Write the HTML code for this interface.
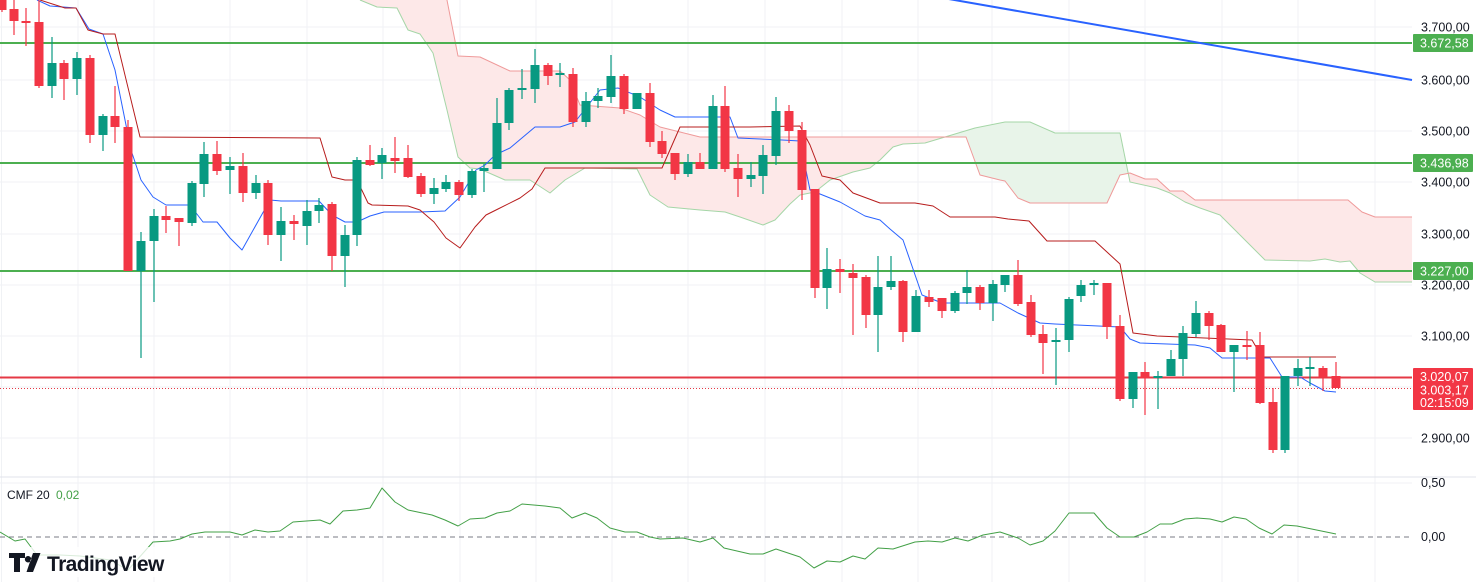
<!DOCTYPE html>
<html><head><meta charset="utf-8"><style>
html,body{margin:0;padding:0;background:#fff;width:1476px;height:582px;overflow:hidden}
svg{display:block;font-family:"Liberation Sans",sans-serif}
</style></head><body>
<svg id="c" width="1476" height="582" xmlns="http://www.w3.org/2000/svg"></svg>
<script>
const S=document.getElementById('c');let h='';
const gx=[1.5,78,154,230,307,383,460,536,612,688,765,842,918,992,1069,1145,1222,1298,1375];
gx.forEach(x=>h+=`<line x1="${x}" y1="0" x2="${x}" y2="582" stroke="#f0f2f5" stroke-width="1"/>`);
[27,80,131,182,234,285,336,387,438,483].forEach(y=>h+=`<line x1="0" y1="${y}" x2="1412" y2="${y}" stroke="#f0f2f5"/>`);
h+=`<line x1="0" y1="477" x2="1476" y2="477" stroke="#e0e3eb"/>`;
function interp(p,x){if(x<=p[0][0])return p[0][1];for(let i=1;i<p.length;i++){if(x<=p[i][0]){const a=p[i-1],b=p[i];return a[1]+(b[1]-a[1])*(x-a[0])/((b[0]-a[0])||1);}}return p[p.length-1][1];}
const A=[[360,0],[377,7],[397,8],[408,30],[420,34],[433,53],[447,110],[458,157],[470,168],[480,169],[505,180],[530,180],[550,193],[565,180],[585,168],[637,169],[650,195],[668,207],[700,210],[725,212],[740,217],[763,225],[775,220],[790,204],[800,195],[815,192],[830,180],[853,172],[870,168],[880,160],[893,147],[903,144],[925,143],[945,137],[975,128],[1000,123],[1005,122],[1030,122],[1055,133],[1120,133],[1130,182],[1157,188],[1170,193],[1185,202],[1200,208],[1220,215],[1245,240],[1265,260],[1310,261],[1325,259],[1340,262],[1350,261],[1360,273],[1375,282],[1412,282]];
const B=[[360,-10],[445,-10],[458,56],[480,57],[510,71],[560,71],[570,80],[580,105],[620,108],[640,115],[660,127],[700,137],[966,137],[980,175],[1000,180],[1005,181],[1018,198],[1030,203],[1107,203],[1120,175],[1130,173],[1145,179],[1157,179],[1170,191],[1183,191],[1195,200],[1348,200],[1362,212],[1375,217],[1412,217]];
for(let x=360;x<1412;x++){const a=interp(A,x+0.5),b=interp(B,x+0.5);const t=Math.min(a,b),bt=Math.max(a,b);
h+=`<rect x="${x}" y="${t}" width="1.05" height="${bt-t}" fill="${b<a?'#fde8e8':'#e8f4e9'}"/>`;}
const pl=(p,c,w)=>`<polyline points="${p.map(q=>q.join(',')).join(' ')}" fill="none" stroke="${c}" stroke-width="${w}" stroke-linejoin="round"/>`;
h+=pl(A,'#a5d6a7',1)+pl(B.filter(q=>q[1]>=0||q[0]>=445),'#ef9a9a',1);
[43,163,271].forEach(y=>h+=`<line x1="0" y1="${y}" x2="1412" y2="${y}" stroke="#4caf50" stroke-width="2"/>`);
h+=`<line x1="943" y1="-2" x2="1412" y2="80" stroke="#2962ff" stroke-width="2"/>`;
h+=`<line x1="0" y1="377.5" x2="1412" y2="377.5" stroke="#e53945" stroke-width="2"/>`;
h+=`<line x1="0" y1="388.5" x2="1412" y2="388.5" stroke="#e53945" stroke-width="1" stroke-dasharray="1,2"/>`;
const T=[[37,0],[50,6],[76,8],[89,29],[103,34],[115,70],[131,150],[141,180],[153,197],[166,205],[190,205],[203,222],[217,222],[230,238],[242,250],[270,200],[281,201],[319,201],[332,215],[345,222],[357,222],[370,216],[384,212],[420,212],[445,211],[460,197],[476,170],[485,165],[495,155],[510,148],[535,127],[560,127],[575,122],[600,90],[618,88],[640,97],[660,110],[675,117],[730,117],[738,138],[782,140],[800,141],[810,190],[820,194],[840,202],[865,216],[880,220],[890,229],[903,240],[922,295],[942,303],[1000,303],[1018,313],[1040,323],[1055,324],[1120,327],[1130,339],[1140,343],[1195,345],[1210,348],[1222,358],[1270,358],[1282,377],[1300,377],[1310,383],[1325,391],[1336,392]];
const K=[[40,0],[65,8],[76,8],[88,30],[103,34],[115,34],[140,137],[320,138],[332,177],[345,180],[357,180],[368,203],[372,205],[408,206],[420,210],[434,222],[446,238],[460,248],[475,227],[486,215],[498,209],[520,198],[532,189],[545,168],[662,168],[680,127],[750,127],[800,126],[810,145],[822,176],[840,180],[853,193],[880,203],[915,203],[933,206],[950,217],[995,217],[1008,219],[1029,221],[1047,241],[1095,241],[1120,264],[1133,333],[1157,336],[1252,340],[1262,357],[1336,357]];
h+=pl(T,'#2962ff',1)+pl(K,'#b71c1c',1);
const C=[[2,0,10,0,12,0],[14,9,21,0,35,0],[26,21,23,8,46,0],[39,22,86,0,88,0],[52,63,86,37,98,1],[64,63,79,60,100,0],[77,58,79,52,95,1],[90,58,135,55,143,0],[103,116,135,114,151,1],[115,116,127,86,143,0],[128,127,271,120,271,0],[141,241,271,232,358,1],[154,216,241,209,302,1],[166,216,220,206,233,0],[179,218,222,218,246,0],[192,183,223,181,226,1],[204,154,184,142,197,1],[217,154,171,141,175,0],[230,166,170,157,194,1],[243,166,193,153,202,0],[256,183,193,175,199,1],[268,183,235,180,245,0],[281,221,235,207,261,1],[294,221,224,215,240,0],[307,211,226,200,245,1],[319,205,211,198,223,1],[332,204,256,202,271,0],[345,235,256,225,287,1],[357,160,235,157,246,1],[370,160,165,145,166,0],[382,155,163,148,179,1],[395,158,161,137,173,0],[408,158,177,145,178,0],[421,176,194,173,197,0],[434,188,194,178,204,1],[446,182,189,175,192,1],[459,182,195,180,201,0],[472,171,195,169,198,1],[484,168,171,164,192,1],[497,123,169,98,169,1],[509,90,123,88,130,1],[522,88,90,69,99,1],[535,65,89,49,103,1],[548,65,76,63,85,0],[560,73,75,63,87,1],[573,74,122,68,127,0],[586,101,122,92,127,1],[598,96,101,88,108,1],[611,76,97,55,103,1],[624,76,109,74,114,0],[637,93,109,93,109,1],[650,93,142,83,147,0],[662,141,154,131,158,0],[675,153,174,153,180,0],[688,162,174,154,177,1],[700,162,169,153,169,0],[713,106,169,95,169,1],[725,106,169,86,172,0],[738,168,179,154,197,0],[751,175,179,162,187,1],[763,155,176,145,194,1],[776,111,156,97,165,1],[789,111,131,105,143,0],[802,130,190,122,200,0],[815,189,288,189,298,0],[827,269,288,248,309,1],[840,269,272,259,293,0],[853,273,278,264,335,0],[866,277,315,275,328,0],[878,287,315,256,352,1],[891,281,287,256,290,1],[903,281,332,280,342,0],[916,296,332,290,332,1],[929,297,302,290,307,0],[942,298,311,298,318,0],[955,293,311,291,313,1],[967,287,293,270,304,1],[980,287,303,285,310,0],[993,284,303,280,321,1],[1005,275,285,275,292,1],[1018,275,304,260,306,0],[1031,302,335,295,337,0],[1043,334,343,325,374,0],[1056,340,342,328,385,1],[1069,299,340,297,352,1],[1081,285,296,280,302,1],[1094,283,285,280,295,1],[1107,283,327,283,339,0],[1120,326,399,315,401,0],[1133,372,399,372,408,1],[1145,372,378,362,415,0],[1158,376,378,371,409,1],[1171,359,376,350,376,1],[1183,333,359,326,376,1],[1196,313,334,301,337,1],[1209,313,326,311,340,0],[1221,325,352,324,352,0],[1234,345,352,345,392,1],[1247,345,347,331,360,0],[1260,345,403,332,404,0],[1273,402,450,388,453,0],[1285,376,450,376,453,1],[1298,368,376,359,386,1],[1310,367,369,357,386,1],[1323,368,377,366,391,0],[1336,376,388,362,388,0]];
C.forEach(c=>{const col=c[5]?'#089981':'#f23645';h+=`<line x1="${c[0]}" y1="${c[3]}" x2="${c[0]}" y2="${c[4]}" stroke="${col}" stroke-width="1.2"/><rect x="${c[0]-4.5}" y="${c[1]}" width="9" height="${Math.max(1.5,c[2]-c[1])}" fill="${col}"/>`;});
h+=`<line x1="0" y1="537" x2="1412" y2="537" stroke="#787b86" stroke-dasharray="5,4" stroke-width="1"/>`;
const M=[[0,532],[15,541],[25,539],[37,555],[60,555],[80,556],[110,560],[128,570],[153,542],[170,541],[180,539],[192,534],[205,532],[230,532],[242,535],[255,530],[268,532],[280,531],[293,522],[320,520],[330,524],[343,511],[357,510],[370,508],[382,488],[395,502],[408,510],[432,515],[445,520],[458,526],[470,519],[485,518],[497,513],[510,511],[522,504],[545,506],[560,508],[572,518],[585,513],[597,518],[610,528],[625,532],[637,532],[650,537],[660,539],[683,538],[700,542],[713,538],[724,548],[750,554],[763,554],[776,549],[800,557],[814,568],[827,561],[840,562],[853,556],[865,559],[878,548],[893,549],[915,542],[928,541],[942,542],[955,538],[968,541],[983,535],[1000,532],[1018,538],[1030,545],[1043,541],[1055,531],[1069,513],[1094,513],[1107,528],[1120,537],[1134,537],[1147,532],[1160,524],[1172,524],[1185,519],[1197,518],[1210,519],[1222,522],[1234,517],[1246,519],[1259,528],[1272,534],[1284,525],[1297,526],[1336,534]];
h+=pl(M,'#43a047',1);
h+=`<text x="7" y="499" font-size="12" fill="#131722">CMF 20</text><text x="56" y="499" font-size="12" fill="#43a047">0,02</text>`;
h+=`<rect x="6" y="547" width="166" height="30" fill="#fff" opacity="0.8"/><path d="M9 553h16v5h-5v14h-6v-14h-5z M28 556a3.2 3.2 0 1 0 0.1 0z M33 553h7.5l-7.5 19h-6.5z" fill="#131722"/><text x="47" y="571" font-size="21" font-weight="bold" fill="#131722" letter-spacing="-0.6">TradingView</text>`;
[[3700,27],[3600,80],[3500,131],[3400,182],[3300,234],[3200,285],[3100,336],[2900,438]].forEach(([v,y])=>{const s=(v/1000|0)+'.'+String(v%1000).padStart(3,'0')+',00';h+=`<text x="1421" y="${y+4.5}" font-size="12.5" fill="#131722">${s}</text>`;});
h+=`<text x="1421" y="487" font-size="12.5" fill="#131722">0,50</text><text x="1421" y="541" font-size="12.5" fill="#131722">0,00</text>`;
[['3.672,58',43],['3.436,98',163],['3.227,00',271]].forEach(([t,y])=>h+=`<rect x="1413" y="${y-9}" width="60" height="18" fill="#4caf50" rx="1"/><text x="1420" y="${y+4.5}" font-size="12.5" fill="#fff">${t}</text>`);
h+=`<rect x="1413" y="368" width="60" height="42" fill="#f23645" rx="1"/><text x="1420" y="381" font-size="12.5" fill="#fff">3.020,07</text><text x="1420" y="394.5" font-size="12.5" fill="#fff">3.003,17</text><text x="1420" y="407" font-size="12.5" fill="#fff">02:15:09</text>`;
S.innerHTML=h;
</script>
</body></html>
